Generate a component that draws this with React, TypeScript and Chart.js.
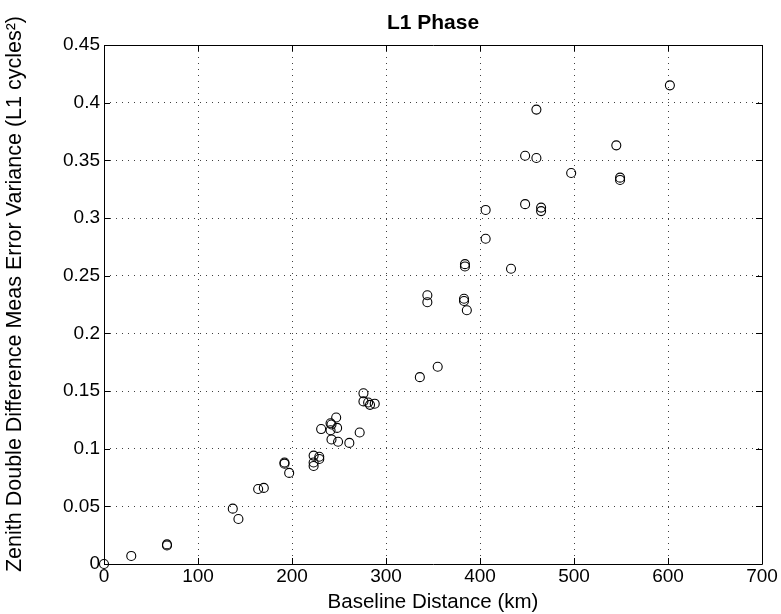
import React, { useEffect, useRef } from "react";
import { Chart, registerables } from "chart.js";

Chart.register(...registerables);

const baselineKm: number[] = [
  0, 29, 67, 67, 137, 143, 164, 170, 192, 192, 197,
  223, 223, 223, 229, 229, 231, 241, 242, 247, 241, 248, 242, 249, 261, 272,
  276, 276, 281, 283, 288, 336, 355, 344, 344, 383, 383, 386, 384, 384,
  433, 406, 406, 448, 465, 465, 448, 460, 460, 497, 545, 549, 549, 602,
];

const variance: number[] = [
  0.0, 0.007, 0.017, 0.016, 0.048, 0.039, 0.065, 0.066, 0.088, 0.087, 0.079,
  0.094, 0.088, 0.085, 0.093, 0.091, 0.117, 0.122, 0.121, 0.127, 0.116, 0.118, 0.108, 0.106, 0.105, 0.114,
  0.148, 0.141, 0.140, 0.138, 0.139, 0.162, 0.171, 0.233, 0.227, 0.230, 0.228, 0.220, 0.260, 0.258,
  0.256, 0.282, 0.307, 0.312, 0.309, 0.306, 0.354, 0.352, 0.394, 0.339, 0.363, 0.335, 0.333, 0.415,
];

const xTicks: number[] = [0, 100, 200, 300, 400, 500, 600, 700];
const yTicks: number[] = [0, 0.05, 0.1, 0.15, 0.2, 0.25, 0.3, 0.35, 0.4, 0.45];

const titleText = "L1 Phase";
const xTitle = "Baseline Distance (km)";
const yTitle = "Zenith Double Difference Meas Error Variance (L1 cycles\u00B2)";

const FONT = "'Liberation Sans', Arial, Helvetica, sans-serif";

const boxPlugin = {
  id: "matlabBox",
  afterDraw(chart: any) {
    const { ctx, chartArea } = chart;
    const { left, right, top, bottom } = chartArea;
    const xs = chart.scales.x;
    const ys = chart.scales.y;
    const tl = 6;
    ctx.save();
    ctx.strokeStyle = "#000";
    ctx.lineWidth = 1;
    ctx.beginPath();
    ctx.rect(Math.round(left) + 0.5, Math.round(top) + 0.5, Math.round(right - left), Math.round(bottom - top));
    ctx.stroke();
    ctx.beginPath();
    xTicks.forEach((v) => {
      const px = Math.round(xs.getPixelForValue(v)) + 0.5;
      ctx.moveTo(px, bottom);
      ctx.lineTo(px, bottom - tl);
      ctx.moveTo(px, top);
      ctx.lineTo(px, top + tl);
    });
    yTicks.forEach((v) => {
      const py = Math.round(ys.getPixelForValue(v)) + 0.5;
      ctx.moveTo(left, py);
      ctx.lineTo(left + tl, py);
      ctx.moveTo(right, py);
      ctx.lineTo(right - tl, py);
    });
    ctx.stroke();
    ctx.fillStyle = "#000";
    ctx.textAlign = "center";
    ctx.textBaseline = "middle";
    // chart title, centred over the plot area
    ctx.font = `bold 21px ${FONT}`;
    ctx.fillText(titleText, (left + right) / 2, 23);
    // y-axis title, rotated
    ctx.save();
    ctx.translate(15, 294);
    ctx.rotate(-Math.PI / 2);
    ctx.font = `21.5px ${FONT}`;
    ctx.fillText(yTitle, 0, 0);
    ctx.restore();
    ctx.restore();
  },
};

export default function App() {
  const canvasRef = useRef<HTMLCanvasElement | null>(null);

  useEffect(() => {
    document.body.style.margin = "0";
    const canvas = canvasRef.current;
    if (!canvas) return;
    const points = baselineKm.map((x, i) => ({ x, y: variance[i] }));
    const chart = new Chart(canvas, {
      type: "scatter",
      data: {
        datasets: [
          {
            data: points,
            pointStyle: "circle",
            pointRadius: 4.5,
            pointBorderWidth: 1.1,
            pointBorderColor: "#000",
            pointBackgroundColor: "rgba(0,0,0,0)",
            clip: false as any,
          },
        ],
      },
      options: {
        responsive: false,
        animation: false,
        devicePixelRatio: 1,
        layout: { padding: { left: 0, right: 19, top: 45, bottom: 0 } },
        plugins: {
          legend: { display: false },
          tooltip: { enabled: false },
          title: { display: false },
        },
        scales: {
          x: {
            type: "linear",
            min: 0,
            max: 700,
            afterBuildTicks: (scale: any) => {
              scale.ticks = xTicks.map((v) => ({ value: v }));
            },
            afterFit: (scale: any) => {
              scale.height = 50;
            },
            ticks: {
              color: "#000",
              font: { family: FONT, size: 19 },
              padding: 1,
              maxRotation: 0,
              callback: (v: any) => String(v),
            },
            grid: {
              color: "rgba(0,0,0,0.75)",
              lineWidth: 1,
              drawTicks: false,
            },
            border: { display: false, dash: [1, 5] },
            title: {
              display: true,
              text: xTitle,
              color: "#000",
              font: { family: FONT, size: 20.5, lineHeight: 1 },
              padding: { top: 0, bottom: 1 },
            },
          },
          y: {
            type: "linear",
            min: 0,
            max: 0.45,
            afterBuildTicks: (scale: any) => {
              scale.ticks = yTicks.map((v) => ({ value: v }));
            },
            afterFit: (scale: any) => {
              scale.width = 104;
            },
            ticks: {
              color: "#000",
              font: { family: FONT, size: 19 },
              padding: 4,
              callback: (v: any) => String(Math.round(Number(v) * 100) / 100),
            },
            grid: {
              color: "rgba(0,0,0,0.75)",
              lineWidth: 1,
              drawTicks: false,
            },
            border: { display: false, dash: [1, 5] },
            title: { display: false },
          },
        },
      },
      plugins: [boxPlugin],
    } as any);
    return () => chart.destroy();
  }, []);

  return (
    <div style={{ position: "absolute", left: 0, top: 0, width: 781, height: 614, background: "#fff" }}>
      <canvas ref={canvasRef} width={781} height={614} />
    </div>
  );
}
